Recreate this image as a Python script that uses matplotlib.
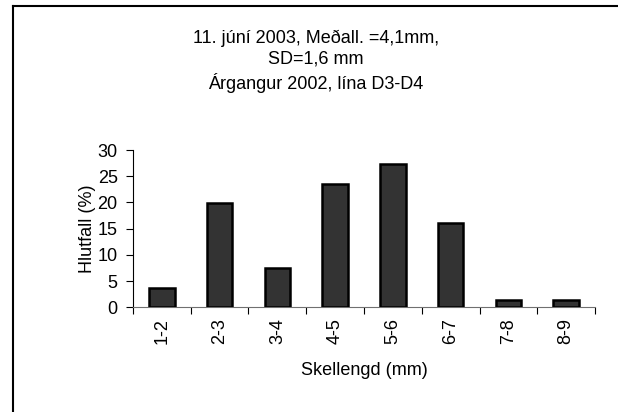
import matplotlib
matplotlib.use("Agg")
from matplotlib import pyplot as plt
from matplotlib.lines import Line2D

plt.rcParams['font.family'] = ['Liberation Sans', 'DejaVu Sans']

categories = ["1-2", "2-3", "3-4", "4-5", "5-6", "6-7", "7-8", "8-9"]
values = [3.7, 19.9, 7.5, 23.6, 27.3, 16.1, 1.3, 1.3]
yticks = [0, 5, 10, 15, 20, 25, 30]

fig = plt.figure(figsize=(6.18, 4.12), dpi=100)
ax = fig.add_axes([0.2152, 0.2541, 0.7476, 0.3818])

xs = range(len(categories))
ax.bar(xs, values, width=0.44, color='#333333', edgecolor='black', linewidth=1.8, zorder=3)

ax.set_xlim(-0.5, len(categories) - 0.5)
ax.set_ylim(0, 30)
ax.set_yticks(yticks)
ax.set_xticks([i - 0.5 for i in range(len(categories) + 1)])
ax.set_xticklabels([])
ax.set_xticks(list(xs), minor=True)
ax.set_xticklabels(categories, minor=True, rotation=90, fontsize=13)
ax.tick_params(axis='x', which='minor', length=0, pad=8)
ax.tick_params(axis='x', which='major', length=5, direction='out', color='black')
ax.tick_params(axis='y', length=5, direction='out', labelsize=13, pad=6)

for s in ['top', 'right']:
    ax.spines[s].set_visible(False)
ax.spines['left'].set_color('black')
ax.spines['bottom'].set_color('#707070')

ax.set_ylabel("Hlutfall (%)", fontsize=13, labelpad=1)
ax.set_xlabel("Skellengd (mm)", fontsize=13, labelpad=13)

fig.text(0.511, 0.928, "11. júní 2003, Meðall. =4,1mm,\nSD=1,6 mm\nÁrgangur 2002, lína D3-D4",
         ha='center', va='top', fontsize=13, linespacing=1.3)

# frame round the chart area
fig.add_artist(Line2D([12.5 / 618, 12.5 / 618], [0, 1 - 6 / 412], transform=fig.transFigure,
                      color='black', linewidth=1.5))
fig.add_artist(Line2D([12.5 / 618, 1], [1 - 6 / 412, 1 - 6 / 412], transform=fig.transFigure,
                      color='black', linewidth=1.5))

fig.savefig('out.png', dpi=100)
